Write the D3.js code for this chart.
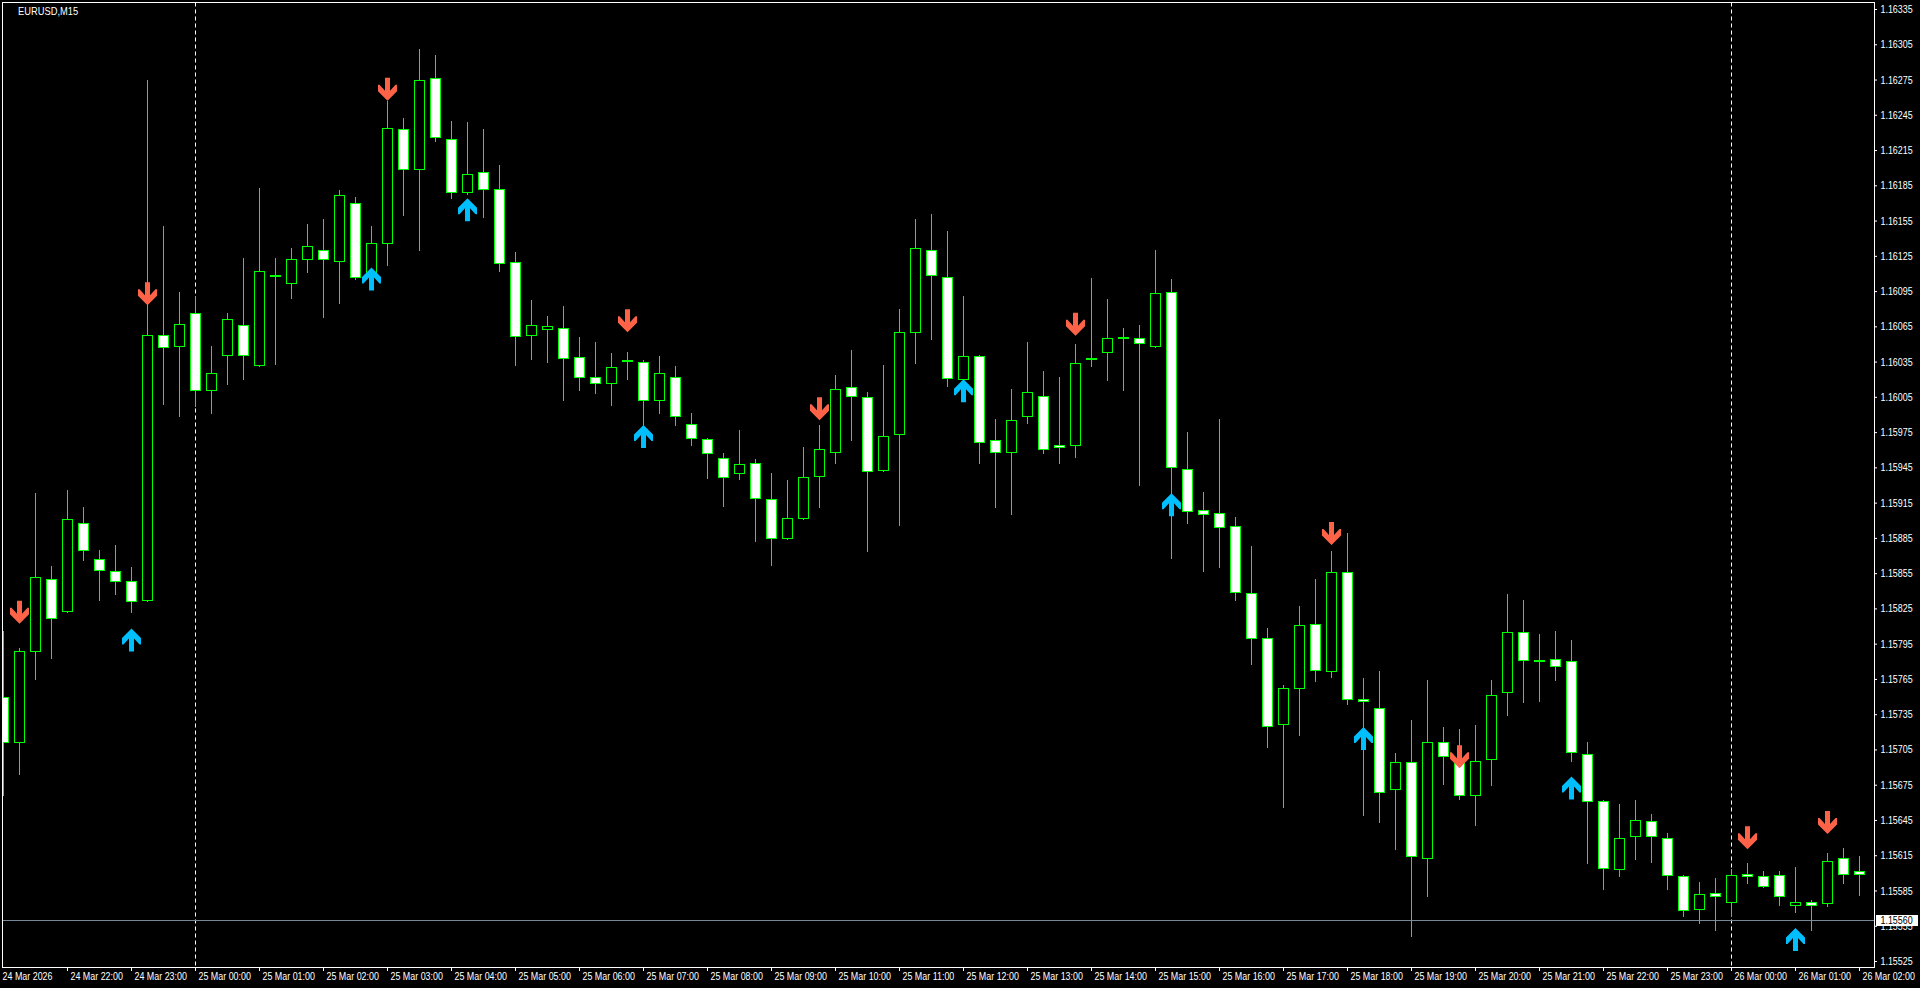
<!DOCTYPE html>
<html>
<head>
<meta charset="utf-8">
<script src="https://cdn.jsdelivr.net/npm/d3@7"></script>
<style>
html, body { margin:0; padding:0; background:#000; overflow:hidden; }
svg text { font-family:"Liberation Sans",Arial,sans-serif; font-size:11px; fill:#fff; }
</style>
</head>
<body>
<svg id="chart" width="1920" height="988"></svg>
<script>

var symbolLabel = "EURUSD,M15";

// M15 bars, 24 Mar 21:00 -> 26 Mar 02:00
var openP = [1.15750,1.15711,1.15789,1.15850,1.15823,1.15898,1.15867,1.15857,1.15848,1.15832,
1.16058,1.16048,1.16076,1.16011,1.16041,1.16066,1.16032,1.16109,1.16102,1.16122,
1.16130,1.16121,1.16170,1.16108,1.16136,1.16233,1.16199,1.16276,1.16224,1.16179,
1.16196,1.16182,1.16120,1.16058,1.16063,1.16064,1.16039,1.16022,1.16017,1.16036,
1.16035,1.16002,1.16022,1.15982,1.15969,1.15953,1.15940,1.15949,1.15918,1.15885,
1.15902,1.15938,1.15958,1.16013,1.16005,1.15943,1.15973,1.16060,1.16130,1.16107,
1.16020,1.16040,1.15968,1.15958,1.15989,1.16006,1.15964,1.15964,1.16038,1.16043,
1.16056,1.16055,1.16048,1.16094,1.15944,1.15909,1.15906,1.15895,1.15838,1.15800,
1.15727,1.15757,1.15812,1.15772,1.15856,1.15748,1.15740,1.15671,1.15694,1.15613,
1.15711,1.15696,1.15666,1.15697,1.15754,1.15805,1.15781,1.15782,1.15780,1.15701,
1.15661,1.15603,1.15631,1.15644,1.15630,1.15597,1.15569,1.15583,1.15575,1.15599,
1.15597,1.15598,1.15573,1.15575,1.15574,1.15613,1.15602];

var highP = [1.15806,1.15791,1.15923,1.15861,1.15926,1.15911,1.15875,1.15879,1.15860,1.16275,
1.16150,1.16094,1.16091,1.16048,1.16076,1.16123,1.16183,1.16123,1.16132,1.16152,
1.16156,1.16181,1.16175,1.16150,1.16257,1.16242,1.16301,1.16296,1.16240,1.16239,
1.16233,1.16202,1.16128,1.16087,1.16074,1.16082,1.16056,1.16052,1.16042,1.16043,
1.16036,1.16040,1.16031,1.15991,1.15970,1.15957,1.15977,1.15952,1.15940,1.15934,
1.15962,1.15981,1.16024,1.16045,1.16009,1.16032,1.16080,1.16156,1.16161,1.16146,
1.16091,1.16041,1.15986,1.16012,1.16052,1.16027,1.16022,1.16050,1.16106,1.16088,
1.16064,1.16066,1.16130,1.16105,1.15975,1.15924,1.15986,1.15903,1.15878,1.15808,
1.15760,1.15827,1.15850,1.15874,1.15889,1.15766,1.15772,1.15702,1.15730,1.15764,
1.15724,1.15722,1.15726,1.15764,1.15837,1.15832,1.15803,1.15806,1.15798,1.15711,
1.15662,1.15659,1.15662,1.15650,1.15634,1.15598,1.15592,1.15596,1.15603,1.15608,
1.15602,1.15602,1.15605,1.15577,1.15617,1.15621,1.15614];

var lowP = [1.15666,1.15684,1.15765,1.15783,1.15822,1.15866,1.15832,1.15837,1.15822,1.15831,
1.15999,1.15989,1.15997,1.15991,1.16016,1.16020,1.16031,1.16033,1.16089,1.16111,
1.16073,1.16085,1.16105,1.16105,1.16117,1.16160,1.16130,1.16223,1.16174,1.16178,
1.16158,1.16112,1.16032,1.16037,1.16035,1.16002,1.16011,1.16008,1.15998,1.16020,
1.15980,1.15991,1.15981,1.15964,1.15936,1.15912,1.15935,1.15882,1.15862,1.15884,
1.15901,1.15911,1.15949,1.15968,1.15874,1.15942,1.15896,1.16034,1.16054,1.16014,
1.16019,1.15949,1.15911,1.15905,1.15983,1.15957,1.15949,1.15954,1.16031,1.16019,
1.16011,1.15930,1.16047,1.15868,1.15898,1.15857,1.15860,1.15832,1.15778,1.15707,
1.15656,1.15717,1.15763,1.15767,1.15744,1.15649,1.15643,1.15620,1.15546,1.15580,
1.15676,1.15663,1.15641,1.15675,1.15734,1.15745,1.15746,1.15764,1.15695,1.15608,
1.15586,1.15597,1.15612,1.15609,1.15586,1.15563,1.15557,1.15551,1.15563,1.15591,
1.15588,1.15573,1.15567,1.15551,1.15572,1.15591,1.15581];

var closeP = [1.15711,1.15789,1.15852,1.15817,1.15901,1.15875,1.15858,1.15848,1.15831,1.16058,
1.16047,1.16067,1.16011,1.16025,1.16071,1.16041,1.16112,1.16109,1.16122,1.16133,
1.16122,1.16177,1.16107,1.16136,1.16234,1.16199,1.16275,1.16226,1.16179,1.16195,
1.16182,1.16119,1.16057,1.16066,1.16065,1.16038,1.16022,1.16017,1.16030,1.16036,
1.16002,1.16025,1.15989,1.15970,1.15957,1.15937,1.15948,1.15919,1.15885,1.15902,
1.15937,1.15961,1.16012,1.16006,1.15942,1.15972,1.16060,1.16132,1.16109,1.16021,
1.16040,1.15967,1.15958,1.15985,1.16009,1.15961,1.15962,1.16034,1.16038,1.16055,
1.16056,1.16051,1.16093,1.15945,1.15908,1.15905,1.15894,1.15839,1.15800,1.15725,
1.15757,1.15811,1.15773,1.15856,1.15748,1.15746,1.15669,1.15694,1.15614,1.15711,
1.15699,1.15666,1.15695,1.15751,1.15805,1.15781,1.15781,1.15776,1.15703,1.15661,
1.15604,1.15630,1.15645,1.15631,1.15598,1.15568,1.15582,1.15580,1.15598,1.15597,
1.15589,1.15580,1.15575,1.15573,1.15610,1.15599,1.15599];

// indicator arrows (bar index + price at arrow tip)
var sellIdx = [1, 9, 24, 39, 51, 67, 83, 91, 109, 114];
var sellPrice = [1.15812, 1.16083, 1.16257, 1.16060, 1.15985, 1.16057, 1.15879, 1.15689, 1.15620, 1.15633];
var buyIdx = [8, 23, 29, 40, 60, 73, 85, 98, 112];
var buyPrice = [1.15808, 1.16115, 1.16174, 1.15981, 1.16020, 1.15923, 1.15724, 1.15682, 1.15553];

var priceTicks = [1.16335,1.16305,1.16275,1.16245,1.16215,1.16185,1.16155,1.16125,1.16095,1.16065,
1.16035,1.16005,1.15975,1.15945,1.15915,1.15885,1.15855,1.15825,1.15795,1.15765,
1.15735,1.15705,1.15675,1.15645,1.15615,1.15585,1.15555,1.15525];

var timeTickIdx = [0,4,8,12,16,20,24,28,32,36,40,44,48,52,56,60,64,68,72,76,80,84,88,92,96,100,104,108,112,116];
var timeTickLabels = ["24 Mar 2026","24 Mar 22:00","24 Mar 23:00","25 Mar 00:00","25 Mar 01:00","25 Mar 02:00",
"25 Mar 03:00","25 Mar 04:00","25 Mar 05:00","25 Mar 06:00","25 Mar 07:00","25 Mar 08:00","25 Mar 09:00",
"25 Mar 10:00","25 Mar 11:00","25 Mar 12:00","25 Mar 13:00","25 Mar 14:00","25 Mar 15:00","25 Mar 16:00",
"25 Mar 17:00","25 Mar 18:00","25 Mar 19:00","25 Mar 20:00","25 Mar 21:00","25 Mar 22:00","25 Mar 23:00",
"26 Mar 00:00","26 Mar 01:00","26 Mar 02:00"];

var separatorIdx = [12, 108];   // day breaks
var levelPrice = 1.15560;

var frameL = 2.5, frameT = 2.5, frameR = 1874.5, frameB = 967.5;
var squeeze = 0.81; // terminal font is narrower than Liberation Sans

var x = d3.scaleLinear().domain([0, openP.length - 1]).range([3, 1859]);
var y = d3.scaleLinear().domain([1.15525, 1.16335]).range([961, 9]);

var svg = d3.select("#chart");
svg.append("rect").attr("width", 1920).attr("height", 988).attr("fill", "#000");

svg.append("defs").append("clipPath").attr("id", "plotClip")
  .append("rect").attr("x", 3).attr("y", 3).attr("width", frameR - 3).attr("height", frameB - 3);

var plot = svg.append("g").attr("clip-path", "url(#plotClip)");

// period separators
plot.selectAll(".sep")
  .data(separatorIdx)
  .enter().append("line")
  .attr("x1", function(d) { return Math.round(x(d)) + 0.5; })
  .attr("x2", function(d) { return Math.round(x(d)) + 0.5; })
  .attr("y1", frameT).attr("y2", frameB)
  .style("stroke", "#fff")
  .style("stroke-dasharray", "4,3");

// horizontal level line
plot.append("line")
  .attr("x1", frameL).attr("x2", frameR)
  .attr("y1", Math.round(y(levelPrice)) + 0.5)
  .attr("y2", Math.round(y(levelPrice)) + 0.5)
  .style("stroke", "#778899");

var bars = d3.range(openP.length);

// wicks
plot.selectAll(".wick")
  .data(bars)
  .enter().append("line")
  .attr("x1", function(i) { return Math.round(x(i)) + 0.5; })
  .attr("x2", function(i) { return Math.round(x(i)) + 0.5; })
  .attr("y1", function(i) { return Math.round(y(highP[i])); })
  .attr("y2", function(i) { return Math.round(y(lowP[i])) + 1; })
  .style("stroke", "#00ff00");

// bodies: bull = black, bear = white
plot.selectAll(".body")
  .data(bars)
  .enter().append("rect")
  .attr("x", function(i) { return Math.round(x(i)) - 4.5; })
  .attr("y", function(i) { return Math.round(y(Math.max(openP[i], closeP[i]))) + 0.5; })
  .attr("width", 10)
  .attr("height", function(i) {
    var t = Math.round(y(Math.max(openP[i], closeP[i])));
    var b = Math.round(y(Math.min(openP[i], closeP[i])));
    return Math.max(b - t, 1);
  })
  .style("fill", function(i) { return closeP[i] < openP[i] ? "#fff" : "#000"; })
  .style("stroke", "#00ff00");

// arrow shape, tip at 0,0 pointing down (dir = 1) or up (dir = -1)
function arrowPath(dir) {
  var pts = [[-2.5,-23],[2.5,-23],[2.5,-10],[8,-16],[9.5,-16],[9.5,-9.5],[0,0],
             [-9.5,-9.5],[-9.5,-16],[-8,-16],[-2.5,-10]];
  return "M" + pts.map(function(p) { return p[0] + "," + (p[1] * dir); }).join("L") + "Z";
}

plot.selectAll(".sell")
  .data(sellIdx)
  .enter().append("path")
  .attr("d", arrowPath(1))
  .attr("transform", function(d, i) { return "translate(" + (Math.round(x(d)) + 0.5) + "," + y(sellPrice[i]) + ")"; })
  .style("fill", "#ff6347");

plot.selectAll(".buy")
  .data(buyIdx)
  .enter().append("path")
  .attr("d", arrowPath(-1))
  .attr("transform", function(d, i) { return "translate(" + (Math.round(x(d)) + 0.5) + "," + y(buyPrice[i]) + ")"; })
  .style("fill", "#00bfff");

// frame
svg.append("rect")
  .attr("x", frameL).attr("y", frameT)
  .attr("width", frameR - frameL).attr("height", frameB - frameT)
  .style("fill", "none").style("stroke", "#fff");

// price axis
var yAxis = svg.append("g")
  .attr("transform", "translate(1874,0)")
  .call(d3.axisRight(y).tickValues(priceTicks).tickFormat(d3.format(".5f")).tickSize(3));
yAxis.select(".domain").remove();
yAxis.attr("font-family", null).attr("font-size", null);
yAxis.selectAll("line").style("stroke", "#fff");
yAxis.selectAll("text")
  .attr("x", 6.5 / squeeze)
  .attr("transform", "scale(" + squeeze + ",1)")
  .style("fill", "#fff");

// time axis
var xAxis = svg.append("g")
  .attr("transform", "translate(0,967)")
  .call(d3.axisBottom(x).tickValues(timeTickIdx)
    .tickFormat(function(d, i) { return timeTickLabels[i]; }).tickSize(4));
xAxis.select(".domain").remove();
xAxis.attr("font-family", null).attr("font-size", null);
xAxis.selectAll("line").style("stroke", "#fff")
  .style("opacity", function(d, i) { return i == 0 ? 0 : 1; });
xAxis.selectAll("text")
  .attr("text-anchor", "start")
  .attr("x", function(d, i) { return (i == 0 ? -1 : 3) / squeeze; })
  .attr("y", 5)
  .attr("transform", "scale(" + squeeze + ",1)")
  .style("fill", "#fff");

// current level label
var ly = Math.round(y(levelPrice));
svg.append("rect")
  .attr("x", 1876).attr("y", ly - 5).attr("width", 42).attr("height", 11)
  .style("fill", "#fff");
svg.append("text")
  .attr("transform", "translate(1880.5," + (ly + 0.5) + ") scale(" + squeeze + ",1)")
  .attr("dy", "0.35em")
  .style("fill", "#000")
  .text(d3.format(".5f")(levelPrice));

// symbol caption
svg.append("text")
  .attr("transform", "translate(18,14.5) scale(0.85,1)")
  .text(symbolLabel);

</script>
</body>
</html>
